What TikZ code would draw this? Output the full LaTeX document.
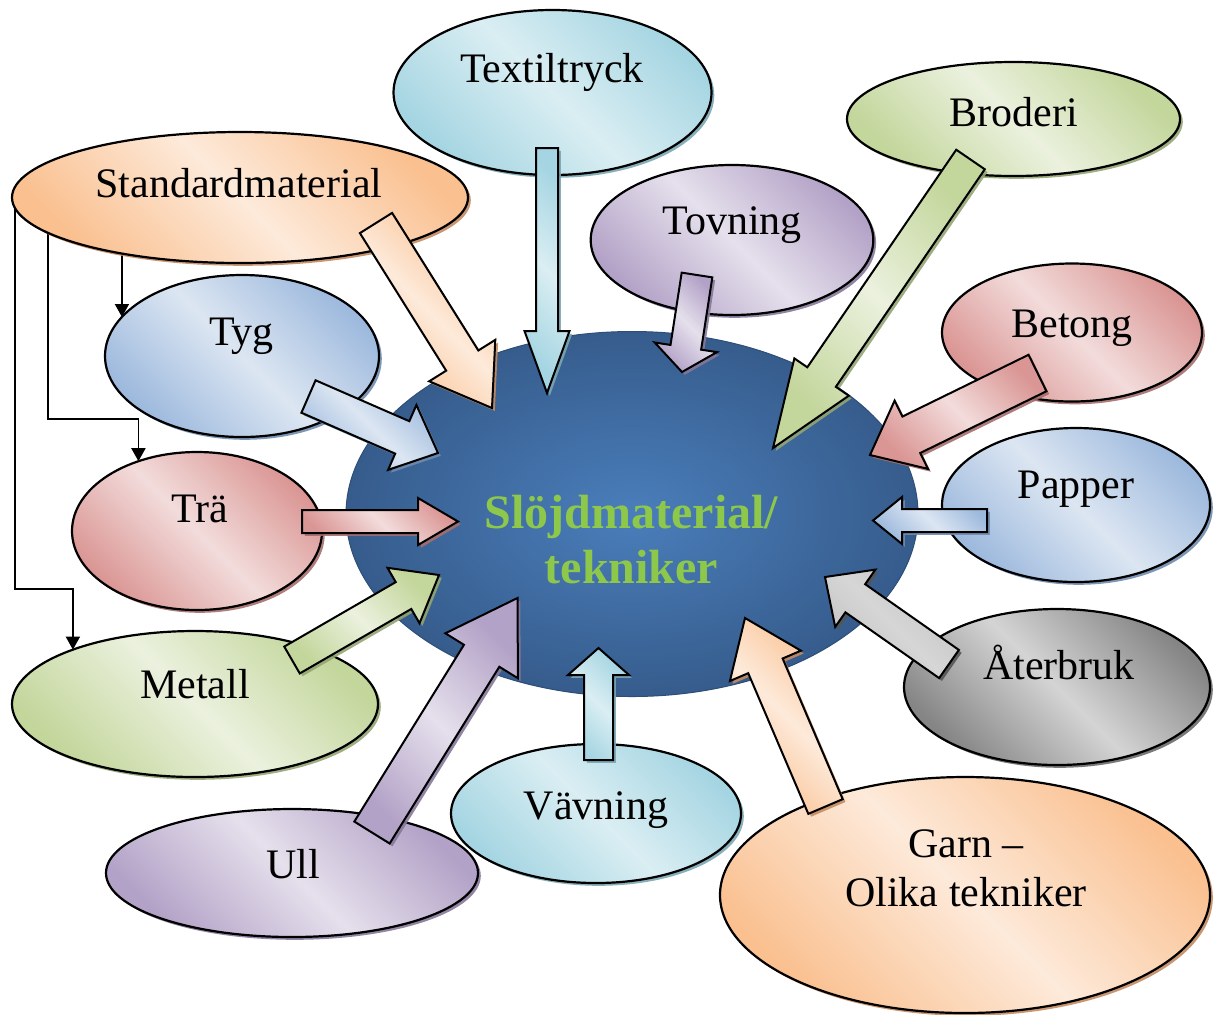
\documentclass[tikz,border=0pt]{standalone}
\usepackage{fontspec}
\setmainfont{Liberation Serif}
\usetikzlibrary{calc,shapes.geometric,shadows,arrows.meta}
\definecolor{orD}{HTML}{FAC090}\definecolor{orL}{HTML}{FDEADA}\definecolor{orS}{HTML}{C48B62}
\definecolor{aqD}{HTML}{A5D5E2}\definecolor{aqL}{HTML}{DAEEF3}\definecolor{aqS}{HTML}{7BA6B3}
\definecolor{puD}{HTML}{B3A2C7}\definecolor{puL}{HTML}{E5E0EC}\definecolor{puS}{HTML}{86789A}
\definecolor{grD}{HTML}{C3D69B}\definecolor{grL}{HTML}{EBF1DE}\definecolor{grS}{HTML}{93A574}
\definecolor{reD}{HTML}{DA9694}\definecolor{reL}{HTML}{F2DCDB}\definecolor{reS}{HTML}{A56E6C}
\definecolor{blD}{HTML}{9DB9DD}\definecolor{blL}{HTML}{DCE6F2}\definecolor{blS}{HTML}{6F8BAE}
\definecolor{gyD}{HTML}{858585}\definecolor{gyL}{HTML}{D4D4D4}\definecolor{gyS}{HTML}{6A6A6A}
\definecolor{gaD}{HTML}{C2C2C2}\definecolor{gaL}{HTML}{D6D6D6}\definecolor{gaS}{HTML}{555555}
\definecolor{cIn}{HTML}{4A7EBB}\definecolor{cOut}{HTML}{365C8C}
\definecolor{cTxt}{HTML}{8DC84B}
\newcommand{\blockarrow}[6]{%
  \path[#6, draw=black, line width=1pt, line join=miter]
    ($(#1)!#3!90:(#2)$) --
    ($(#2)!#5!(#1)!#3!-90:(#1)$) --
    ($(#2)!#5!(#1)!#4!-90:(#1)$) --
    (#2) --
    ($(#2)!#5!(#1)!#4!90:(#1)$) --
    ($(#2)!#5!(#1)!#3!90:(#1)$) --
    ($(#1)!#3!-90:(#2)$) -- cycle;}
\tikzset{
  fam/.style n args={3}{top color=#1, bottom color=#1, middle color=#2, shading angle=-45,
     drop shadow={shadow xshift=1.4pt, shadow yshift=-1.4pt, fill=#3, opacity=0.9}},
  famOr/.style={fam={orD}{orL}{orS}},
  famAq/.style={fam={aqD}{aqL}{aqS}},
  famPu/.style={fam={puD}{puL}{puS}},
  famGr/.style={fam={grD}{grL}{grS}},
  famRe/.style={fam={reD}{reL}{reS}},
  famBl/.style={fam={blD}{blL}{blS}},
  famGy/.style={fam={gyD}{gyL}{gyS}},
  famGyA/.style={fam={gaD}{gaL}{gaS}},
  ell/.style={ellipse, draw=black, line width=1.1pt, inner sep=0pt, outer sep=0pt},
  lbl/.style={anchor=base, inner sep=0pt, font=\fontsize{21}{25}\selectfont},
  ctxt/.style={anchor=base, inner sep=0pt, text=cTxt, font=\fontsize{24}{28}\selectfont\bfseries},
  conn/.style={draw=black, line width=0.9pt, -{Triangle[length=6.5pt,width=7pt]}},
}
\begin{document}
\begin{tikzpicture}[x=0.5pt,y=-0.5pt]
\useasboundingbox (0,0) rectangle (1214,1014);
\coordinate (stdC) at (240,197.5);
\coordinate (tygC) at (242,356);
\coordinate (traC) at (197,531);
\coordinate (metC) at (195,704);
% guide shapes for the thin connectors (invisible)
\node[ell, draw=none, minimum width=228pt, minimum height=65.5pt] (stdG) at (stdC) {};
\node[ell, draw=none, minimum width=137pt, minimum height=81pt] (tygG) at (tygC) {};
\node[ell, draw=none, minimum width=125pt, minimum height=79pt] (traG) at (traC) {};
\node[ell, draw=none, minimum width=183pt, minimum height=73pt] (metG) at (metC) {};
\draw[conn] (tygG.162.5 |- stdG.center) -- (tygG.162.5);
\draw[conn] ($(stdG.west)+(36,0)$) |- ($(traG.130.5)+(0,-42)$) -- (traG.130.5);
\draw[conn] ($(stdG.west)+(3,0)$) |- ($(metG.156.3)+(0,-61)$) -- (metG.156.3);
% outer ellipses
\node[ell, famOr, minimum width=228pt, minimum height=65.5pt] (std) at (stdC) {};
\node[ell, famBl, minimum width=137pt, minimum height=81pt] (tyg) at (tygC) {};
\node[ell, famRe, minimum width=125pt, minimum height=79pt] (tra) at (traC) {};
\node[ell, famGr, minimum width=183pt, minimum height=73pt] (met) at (metC) {};
\node[ell, famPu, minimum width=186pt, minimum height=64pt] (ull) at (292,873) {};
\node[ell, famAq, minimum width=145pt, minimum height=69.5pt] (vav) at (596,813.5) {};
\node[ell, famOr, minimum width=245pt, minimum height=118pt] (garn) at (965,895) {};
\node[ell, famGy, minimum width=153pt, minimum height=78pt] (ate) at (1057,687) {};
\node[ell, famBl, minimum width=134pt, minimum height=77pt] (pap) at (1076,505) {};
\node[ell, famRe, minimum width=130pt, minimum height=69pt] (bet) at (1072,332.5) {};
\node[ell, famGr, minimum width=166.5pt, minimum height=57pt] (bro) at (1013.5,119) {};
\node[ell, famPu, minimum width=141.3pt, minimum height=75pt] (tov) at (732,240) {};
\node[ell, famAq, minimum width=159pt, minimum height=82.5pt] (tex) at (552.5,92.5) {};
% central ellipse
\node[ellipse, inner sep=0pt, minimum width=286pt, minimum height=182.5pt,
      inner color=cIn, outer color=cOut, draw=cOut!85!black, line width=0.5pt] (mid) at (632,514) {};
% block arrow end points
\coordinate (stdT) at ($(std)+(136,25.5)$);     \coordinate (stdH) at ($(mid)+(-140,-106)$);
\coordinate (texT) at ($(tex)+(-5.5,55.5)$);    \coordinate (texH) at ($(mid)+(-85,-121)$);
\coordinate (tovT) at ($(tov)+(-35,35)$);       \coordinate (tovH) at ($(mid)+(50,-142)$);
\coordinate (broT) at ($(bro)+(-43,40.5)$);     \coordinate (broH) at ($(mid)+(141,-66)$);
\coordinate (betT) at ($(bet)+(-34.5,40.5)$);   \coordinate (betH) at ($(mid)+(238,-59)$);
\coordinate (papT) at ($(pap)+(-89,15.5)$);     \coordinate (papH) at ($(mid)+(241,6.5)$);
\coordinate (ateT) at ($(ate)+(-108,-23)$);     \coordinate (ateH) at ($(mid)+(193,63)$);
\coordinate (garnT) at ($(garn)+(-139.5,-88.5)$); \coordinate (garnH) at ($(mid)+(113,104)$);
\coordinate (vavT) at ($(vav)+(2.5,-53.5)$);    \coordinate (vavH) at ($(mid)+(-33.5,134)$);
\coordinate (ullT) at ($(ull)+(80,-40.5)$);     \coordinate (ullH) at ($(mid)+(-114.5,84)$);
\coordinate (metT) at ($(met)+(97,-44)$);       \coordinate (metH) at ($(mid)+(-193,61)$);
\coordinate (traT) at ($(tra)+(105,-9.5)$);     \coordinate (traH) at ($(mid)+(-174,7.5)$);
\coordinate (tygT) at ($(tyg)+(66.5,40.5)$);    \coordinate (tygH) at ($(mid)+(-194,-61)$);
% block arrows
\blockarrow{stdT}{stdH}{9.5pt}{19.5pt}{28pt}{famOr}
\blockarrow{texT}{texH}{5.5pt}{11.25pt}{31pt}{famAq}
\blockarrow{tovT}{tovH}{7.75pt}{15.75pt}{12.5pt}{famPu}
\blockarrow{broT}{broH}{8.65pt}{16.5pt}{43pt}{famGr}
\blockarrow{betT}{betH}{10.15pt}{19pt}{23pt}{famRe}
\blockarrow{papT}{papH}{5.75pt}{11.75pt}{14.5pt}{famBl}
\blockarrow{ateT}{ateH}{8.6pt}{17.5pt}{18.5pt}{famGyA}
\blockarrow{garnT}{garnH}{9.35pt}{19.3pt}{26pt}{famOr}
\blockarrow{vavT}{vavH}{7.25pt}{15.25pt}{13.5pt}{famAq}
\blockarrow{ullT}{ullH}{10.4pt}{21.35pt}{34pt}{famPu}
\blockarrow{metT}{metH}{7.75pt}{16pt}{20.5pt}{famGr}
\blockarrow{traT}{traH}{5.75pt}{11.75pt}{20pt}{famRe}
\blockarrow{tygT}{tygH}{8.85pt}{17.7pt}{19.5pt}{famBl}
% labels
\node[lbl] (stdL) at (239,197) {Standardmaterial};
\node[lbl] (tygL) at (241.5,345) {Tyg};
\node[lbl] (traL) at (199.5,522) {Trä};
\node[lbl] (metL) at (195,698) {Metall};
\node[lbl] (ullL) at (293,878) {Ull};
\node[lbl] (vavL) at (596,819) {Vävning};
\node[lbl] (garnL1) at (966,857) {Garn –};
\node[lbl] (garnL2) at (966,906) {Olika tekniker};
\node[lbl] (ateL) at (1059,679) {Återbruk};
\node[lbl] (papL) at (1076,498) {Papper};
\node[lbl] (betL) at (1072,337) {Betong};
\node[lbl] (broL) at (1013.5,126) {Broderi};
\node[lbl] (tovL) at (732,234) {Tovning};
\node[lbl] (texL) at (552,82) {Textiltryck};
\node[ctxt] (midL1) at (631.5,528) {Slöjdmaterial/};
\node[ctxt] (midL2) at (631.5,583) {tekniker};
\end{tikzpicture}
\end{document}
